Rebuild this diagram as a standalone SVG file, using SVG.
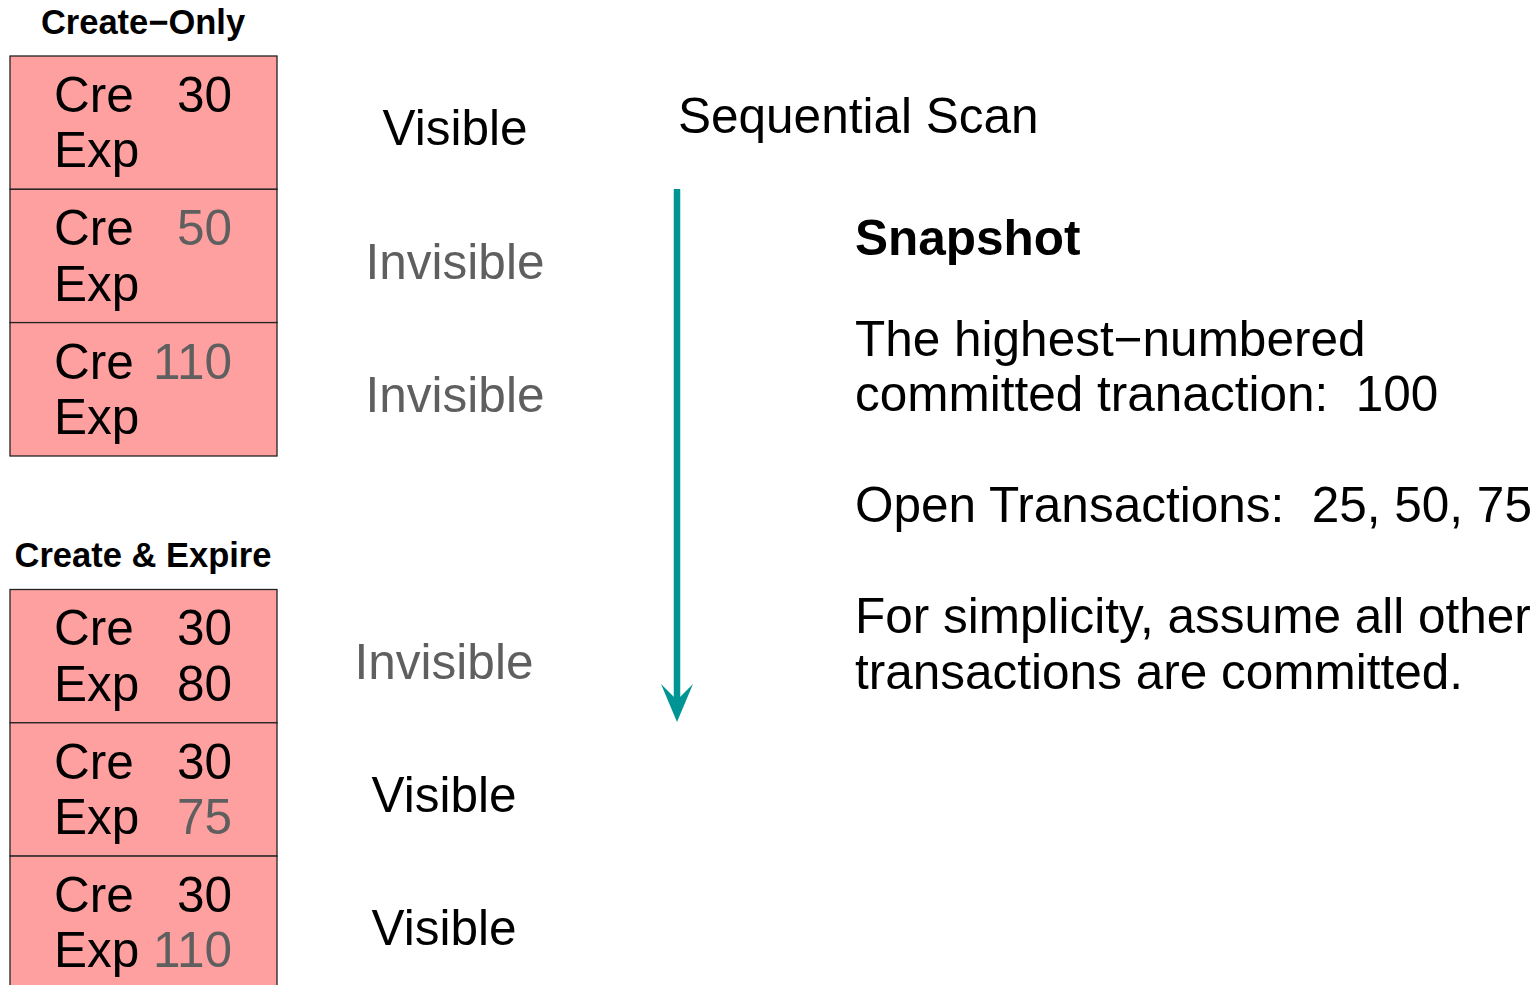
<svg xmlns="http://www.w3.org/2000/svg" width="1539" height="985" viewBox="0 0 1539 985">
<style>
text{font-family:"Liberation Sans",Arial,sans-serif;fill:#000}
.t{font-size:34.5px;font-weight:bold;text-anchor:middle}
.c{font-size:49.5px}
.n{font-size:49.5px;text-anchor:end}
.g{fill:#5f5f5f}
.lab{font-size:49.5px;text-anchor:middle}
.r{font-size:49.5px}
.box{fill:#ffa0a0;stroke:#222;stroke-width:1.3}
</style>
<rect width="1539" height="985" fill="#fff"/>
<text class="t" x="143" y="34">Create−Only</text>
<text class="t" x="143" y="567">Create &amp; Expire</text>

<g id="row1"><rect class="box" x="10" y="56" width="267" height="133.3"/><text class="c" x="54" y="112">Cre</text><text class="n" x="232" y="112">30</text><text class="c" x="54" y="167">Exp</text></g>
<g id="row2"><rect class="box" x="10" y="189.3" width="267" height="133.3"/><text class="c" x="54" y="245">Cre</text><text class="n g" x="232" y="245">50</text><text class="c" x="54" y="301">Exp</text></g>
<g id="row3"><rect class="box" x="10" y="322.6" width="267" height="133.4"/><text class="c" x="54" y="379">Cre</text><text class="n g" x="232" y="379">110</text><text class="c" x="54" y="434">Exp</text></g>

<g id="row4"><rect class="box" x="10" y="589.5" width="267" height="133.3"/><text class="c" x="54" y="645">Cre</text><text class="n" x="232" y="645">30</text><text class="c" x="54" y="701">Exp</text><text class="n" x="232" y="701">80</text></g>
<g id="row5"><rect class="box" x="10" y="722.8" width="267" height="133.3"/><text class="c" x="54" y="779">Cre</text><text class="n" x="232" y="779">30</text><text class="c" x="54" y="834">Exp</text><text class="n g" x="232" y="834">75</text></g>
<g id="row6"><rect class="box" x="10" y="856.1" width="267" height="140"/><text class="c" x="54" y="912">Cre</text><text class="n" x="232" y="912">30</text><text class="c" x="54" y="967">Exp</text><text class="n g" x="232" y="967">110</text></g>

<g id="labels">
<text class="lab" x="455" y="145">Visible</text>
<text class="lab g" x="455" y="279">Invisible</text>
<text class="lab g" x="455" y="412">Invisible</text>
<text class="lab g" x="444" y="679">Invisible</text>
<text class="lab" x="444" y="812">Visible</text>
<text class="lab" x="444" y="945">Visible</text>
</g>

<g id="connectors">
<line x1="677" y1="189" x2="677" y2="702" stroke="#009494" stroke-width="6.5"/>
<polygon points="677,722 661,684 677,700 693,684" fill="#009494"/>
</g>

<g id="notes">
<text class="r" x="678" y="133">Sequential Scan</text>
<text class="r" x="855" y="255" font-weight="bold">Snapshot</text>
<text class="r" x="855" y="356">The highest−numbered</text>
<text class="r" x="855" y="411" xml:space="preserve">committed tranaction:  100</text>
<text class="r" x="855" y="522" xml:space="preserve">Open Transactions:  25, 50, 75</text>
<text class="r" x="855" y="633">For simplicity, assume all other</text>
<text class="r" x="855" y="689">transactions are committed.</text>
</g>
</svg>
